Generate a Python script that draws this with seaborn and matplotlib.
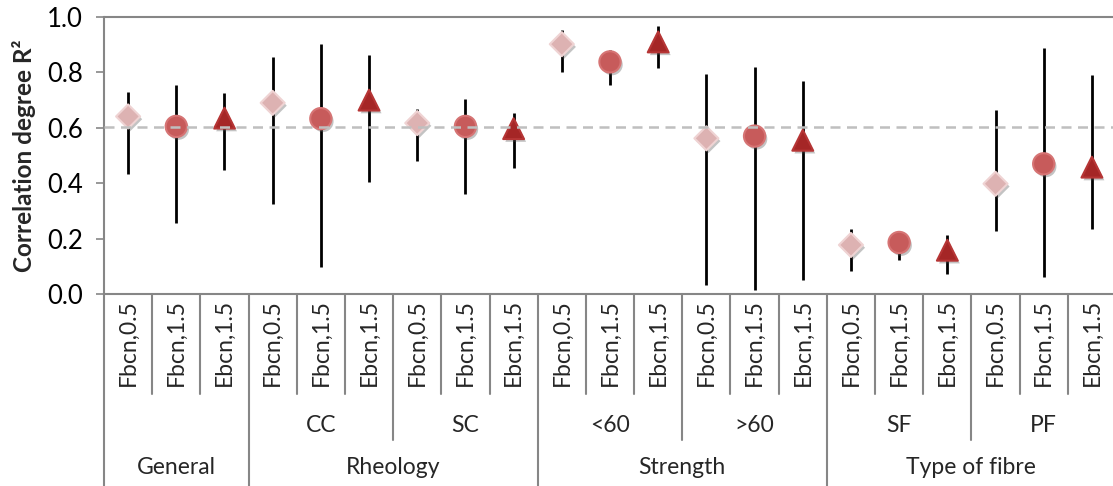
import numpy as np
import pandas as pd
import matplotlib
matplotlib.use("Agg")
import matplotlib.pyplot as plt
import matplotlib.patheffects as pe
import matplotlib.transforms as mtransforms
import seaborn as sns

# ---------------- data ----------------
level1 = ["Fbcn,0.5", "Fbcn,1.5", "Ebcn,1.5"] * 7
level2 = ["", "CC", "SC", "<60", ">60", "SF", "PF"]
level3 = ["General", "Rheology", "Strength", "Type of fibre"]
level3_span = [1, 2, 2, 2]          # number of level-2 groups in each level-3 group

series = ["Fbcn,0.5", "Fbcn,1.5", "Ebcn,1.5"]
# values per level-2 group (General, CC, SC, <60, >60, SF, PF)
mean_f05 = [0.641, 0.690, 0.617, 0.902, 0.562, 0.177, 0.398]
low_f05  = [0.434, 0.325, 0.480, 0.800, 0.032, 0.083, 0.228]
high_f05 = [0.729, 0.855, 0.669, 0.952, 0.793, 0.235, 0.666]

mean_f15 = [0.605, 0.633, 0.605, 0.838, 0.570, 0.186, 0.470]
low_f15  = [0.256, 0.096, 0.361, 0.756, 0.015, 0.122, 0.060]
high_f15 = [0.754, 0.903, 0.703, 0.880, 0.820, 0.226, 0.887]

mean_e15 = [0.635, 0.700, 0.597, 0.910, 0.555, 0.158, 0.458]
low_e15  = [0.448, 0.403, 0.455, 0.817, 0.050, 0.073, 0.235]
high_e15 = [0.726, 0.862, 0.655, 0.967, 0.770, 0.213, 0.790]

reference_value = 0.603

# ---------------- build table ----------------
rows = []
for g in range(len(level2)):
    for s, (m, lo, hi) in enumerate([(mean_f05, low_f05, high_f05),
                                     (mean_f15, low_f15, high_f15),
                                     (mean_e15, low_e15, high_e15)]):
        rows.append(dict(pos=g * 3 + s, series=series[s], group=level2[g],
                         mean=m[g], low=lo[g], high=hi[g]))
df = pd.DataFrame(rows)

# ---------------- figure ----------------
sns.set_theme(style="white")
plt.rcParams["font.family"] = ["Lato", "DejaVu Sans"]

W, H = 1113, 486
fig = plt.figure(figsize=(W / 100, H / 100), dpi=100)
left_px, right_px, top_px, bot_px = 104, 1116, 17, 294
ax = fig.add_axes([left_px / W, 1 - bot_px / H, (right_px - left_px) / W, (bot_px - top_px) / H])

axis_col = "#868686"

# error bars
ax.vlines(df["pos"], df["low"], df["high"], color="black", lw=2.0, zorder=2)

colors = {"Fbcn,0.5": "#DDB2B2", "Fbcn,1.5": "#C75B5B", "Ebcn,1.5": "#A52626"}
edges = {"Fbcn,0.5": "#EFD3D3", "Fbcn,1.5": "#D67474", "Ebcn,1.5": "#B63535"}
markers = {"Fbcn,0.5": "D", "Fbcn,1.5": "o", "Ebcn,1.5": "^"}
sizes = {"Fbcn,0.5": 150, "Fbcn,1.5": 235, "Ebcn,1.5": 225}

for s in series:
    sub = df[df["series"] == s]
    sns.scatterplot(data=sub, x="pos", y="mean", marker=markers[s], s=sizes[s],
                    color=colors[s], edgecolor=edges[s], linewidth=1.5, ax=ax,
                    zorder=3, legend=False)
for coll in ax.collections[1:]:
    coll.set_path_effects([pe.SimplePatchShadow(offset=(1.5, -2), shadow_rgbFace="#555555", alpha=0.35),
                           pe.Normal()])

ax.axhline(reference_value, color="#BFBFBF", lw=1.8, ls=(0, (4, 2.6)), zorder=4)
ax.axhline(1.0, color=axis_col, lw=1.5, zorder=1, clip_on=False)

ax.set_xlim(-0.5, 20.5)
ax.set_ylim(0, 1.0)
ax.set_yticks(np.arange(0, 1.01, 0.2))
ax.set_yticklabels([f"{v:.1f}" for v in np.arange(0, 1.01, 0.2)], fontsize=18.5, color="black")
ax.tick_params(axis="y", direction="out", length=6, width=1.2, color=axis_col, left=True, pad=9)
ax.set_xticks([])
ax.set_xlabel("")
ax.set_ylabel("Correlation degree R²", fontsize=17.5, fontweight="bold", labelpad=8)

for sp in ["top", "right"]:
    ax.spines[sp].set_visible(False)
for sp in ["left", "bottom"]:
    ax.spines[sp].set_color(axis_col)
    ax.spines[sp].set_linewidth(1.5)

# ---------------- hierarchical category axis ----------------
trans = mtransforms.blended_transform_factory(ax.transData, fig.transFigure)
def fy(px):
    return 1 - px / H

y1_end, y2_end, y3_end = 394, 440, 486
for i, lab in enumerate(level1):
    ax.text(i, fy(299), lab, rotation=90, ha="center", va="top", fontsize=16.5,
            transform=trans, clip_on=False)

# boundaries
n = len(level1)
level3_bounds = [0]
for sp in level3_span:
    level3_bounds.append(level3_bounds[-1] + sp)
for b in range(n + 1):
    x = b - 0.5
    if b % 3 != 0:
        y_end = y1_end
    else:
        g = b // 3
        y_end = y3_end if (g in level3_bounds) else y2_end
    ax.plot([x, x], [fy(bot_px), fy(y_end)], color=axis_col, lw=1.5,
            transform=trans, clip_on=False)

for g, lab in enumerate(level2):
    if lab:
        ax.text(g * 3 + 1, fy(425), lab, ha="center", va="center", fontsize=16.5,
                transform=trans, clip_on=False)

for k, lab in enumerate(level3):
    start = level3_bounds[k] * 3
    end = level3_bounds[k + 1] * 3
    ax.text((start + end - 1) / 2, fy(467), lab, ha="center", va="center", fontsize=16.5,
            transform=trans, clip_on=False)

fig.savefig("out.png", dpi=100)
